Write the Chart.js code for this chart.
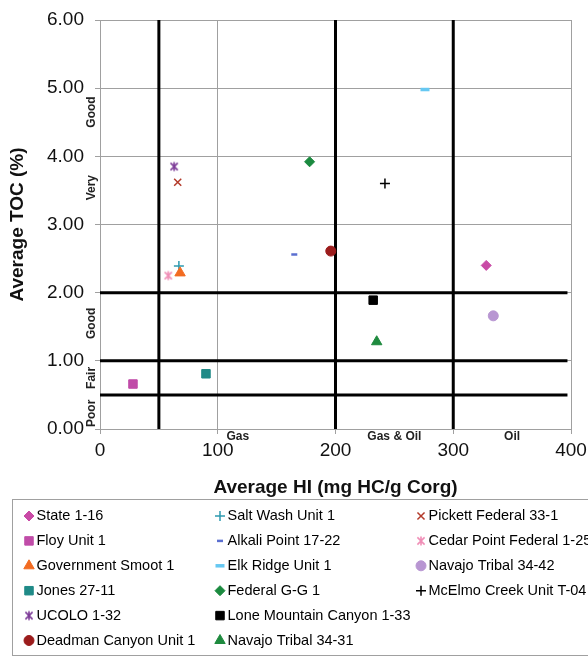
<!DOCTYPE html>
<html>
<head>
<meta charset="utf-8">
<script src="https://cdn.jsdelivr.net/npm/chart.js@4"></script>
<style>
  html, body { margin: 0; padding: 0; background: #ffffff; }
  #wrap { width: 588px; height: 658px; position: relative; }
</style>
</head>
<body>
<div id="wrap"><canvas id="c"></canvas></div>
<script>
// Wells: average hydrogen index vs average total organic carbon
const wellNames = [
  'State 1-16', 'Floy Unit 1', 'Government Smoot 1', 'Jones 27-11', 'UCOLO 1-32', 'Deadman Canyon Unit 1',
  'Salt Wash Unit 1', 'Alkali Point 17-22', 'Elk Ridge Unit 1', 'Federal G-G 1', 'Lone Mountain Canyon 1-33', 'Navajo Tribal 34-31',
  'Pickett Federal 33-1', 'Cedar Point Federal 1-25', 'Navajo Tribal 34-42', 'McElmo Creek Unit T-04'
];
const hiValues  = [328, 28, 68, 90, 63, 196, 67, 165, 276, 178, 232, 235, 66, 58, 334, 242];
const tocValues = [2.40, 0.66, 2.29, 0.81, 3.85, 2.61, 2.39, 2.56, 4.98, 3.92, 1.89, 1.28, 3.62, 2.25, 1.66, 3.60];

// Axis ranges and classification boundaries
const hiRange = [0, 400];
const hiStep = 100;
const tocRange = [0, 6];
const tocStep = 1;
const hiBoundaries = [50, 200, 300];
const tocBoundaries = [0.5, 1, 2];
const tocBoundaryEndHI = 397;

// Zone annotations
const kerogenLabels = ['Gas', 'Gas & Oil', 'Oil'];
const kerogenLabelHI = [117, 250, 350];
const richnessLabels = ['Poor', 'Fair', 'Good', 'Very', 'Good'];
const richnessLabelTOC = [0.23, 0.75, 1.55, 3.54, 4.65];

// Marker styling per well
const markerShapes = ['rectRot', 'rect', 'triangle', 'rect', 'asterisk', 'circle',
                      'cross', 'line', 'line', 'rectRot', 'rect', 'triangle',
                      'crossRot', 'asterisk', 'circle', 'cross'];
const markerColors = ['#c94aa6', '#c04ca8', '#f26b21', '#1f8a87', '#7d3c98', '#9b1c1c',
                      '#2e9bb0', '#5b6fd0', '#66c8f2', '#1b8a3f', '#000000', '#1e8a3e',
                      '#b33a2a', '#f08db6', '#b896d2', '#000000'];
const markerRadius = [5, 6, 6, 6, 4.5, 5, 5, 3, 4.5, 5, 6, 6, 5, 4.5, 5, 5];
const markerWidth  = [1, 1, 1, 1, 1.5, 1, 1.5, 2.5, 3.5, 1, 1, 1, 1.5, 1.5, 1, 1.5];

const FONT = "'Liberation Sans', Arial, sans-serif";

// Six-armed asterisk marker drawn on a small canvas
function asteriskMarker(color, r) {
  const s = Math.ceil(2 * r + 3);
  const cv = document.createElement('canvas');
  cv.width = s; cv.height = s;
  const g = cv.getContext('2d');
  const c = s / 2;
  g.strokeStyle = color;
  g.lineWidth = 1.6;
  g.beginPath();
  g.moveTo(c - r * 0.8, c - r * 0.8); g.lineTo(c + r * 0.8, c + r * 0.8);
  g.moveTo(c + r * 0.8, c - r * 0.8); g.lineTo(c - r * 0.8, c + r * 0.8);
  g.moveTo(c, c - r); g.lineTo(c, c + r);
  g.stroke();
  return cv;
}

function styleFor(i) {
  return markerShapes[i] === 'asterisk' ? asteriskMarker(markerColors[i], markerRadius[i]) : markerShapes[i];
}

const datasets = wellNames.map((name, i) => ({
  label: name,
  data: [{ x: hiValues[i], y: tocValues[i] }],
  pointStyle: styleFor(i),
  pointRadius: markerRadius[i],
  pointHoverRadius: markerRadius[i],
  pointBorderWidth: markerWidth[i],
  backgroundColor: markerColors[i],
  borderColor: markerColors[i]
}));

const zonePlugin = {
  id: 'zones',
  beforeDatasetsDraw(chart) {
    const { ctx, scales: { x, y } } = chart;
    ctx.save();
    ctx.strokeStyle = '#000000';
    ctx.lineWidth = 3;
    ctx.beginPath();
    hiBoundaries.forEach(v => {
      const px = x.getPixelForValue(v);
      ctx.moveTo(px, y.getPixelForValue(tocRange[0]));
      ctx.lineTo(px, y.getPixelForValue(tocRange[1]));
    });
    tocBoundaries.forEach(v => {
      const py = y.getPixelForValue(v);
      ctx.moveTo(x.getPixelForValue(hiRange[0]), py);
      ctx.lineTo(x.getPixelForValue(tocBoundaryEndHI), py);
    });
    ctx.stroke();
    ctx.restore();
  },
  afterDraw(chart) {
    const { ctx, scales: { x, y }, chartArea } = chart;
    ctx.save();
    ctx.fillStyle = '#222222';
    ctx.font = 'bold 12px ' + FONT;
    ctx.textAlign = 'center';
    ctx.textBaseline = 'middle';
    kerogenLabels.forEach((t, i) => {
      ctx.fillText(t, x.getPixelForValue(kerogenLabelHI[i]), chartArea.bottom + 8);
    });
    richnessLabels.forEach((t, i) => {
      ctx.save();
      ctx.translate(chartArea.left - 8, y.getPixelForValue(richnessLabelTOC[i]));
      ctx.rotate(-Math.PI / 2);
      ctx.fillText(t, 0, 0);
      ctx.restore();
    });

    // Legend box, three columns filled top to bottom
    ctx.strokeStyle = '#a0a0a0';
    ctx.lineWidth = 1;
    ctx.strokeRect(12.5, 499.5, 600, 156);
    const colX = [29, 220, 421];
    const rowY0 = 516, rowStep = 24.9, perCol = 6;
    ctx.font = '14.5px ' + FONT;
    ctx.textAlign = 'left';
    ctx.textBaseline = 'middle';
    chart.data.datasets.forEach((ds, i) => {
      const mx = colX[Math.floor(i / perCol)];
      const my = rowY0 + (i % perCol) * rowStep;
      ctx.save();
      ctx.fillStyle = ds.backgroundColor;
      ctx.strokeStyle = ds.borderColor;
      ctx.lineWidth = ds.pointBorderWidth;
      Chart.helpers.drawPoint(ctx, {
        pointStyle: ds.pointStyle,
        radius: ds.pointRadius,
        borderWidth: ds.pointBorderWidth,
        rotation: 0
      }, mx, my);
      ctx.restore();
      ctx.fillStyle = '#000000';
      ctx.fillText(ds.label, mx + 7.5, my);
    });
    ctx.restore();
  }
};

new Chart(document.getElementById('c'), {
  type: 'scatter',
  data: { datasets },
  options: {
    responsive: true,
    maintainAspectRatio: false,
    animation: false,
    layout: { padding: { left: 0, top: 20, right: 17, bottom: 159 } },
    plugins: { legend: { display: false }, tooltip: { enabled: false } },
    scales: {
      x: {
        type: 'linear',
        min: hiRange[0], max: hiRange[1],
        afterFit(scale) { scale.height = 70; scale.paddingLeft = 0; scale.paddingRight = 0; },
        ticks: {
          stepSize: hiStep, padding: 5, color: '#111111',
          font: { family: FONT, size: 19 }
        },
        grid: { color: '#a0a0a0', lineWidth: 1, tickLength: 5 },
        border: { color: '#a0a0a0' },
        title: {
          display: true, text: 'Average HI (mg HC/g Corg)', color: '#111111',
          font: { family: FONT, size: 19, weight: 'bold' },
          padding: { top: 0, bottom: 0 }
        }
      },
      y: {
        type: 'linear',
        min: tocRange[0], max: tocRange[1],
        afterFit(scale) { scale.width = 100; scale.paddingTop = 0; scale.paddingBottom = 0; },
        ticks: {
          stepSize: tocStep, padding: 11, color: '#111111',
          font: { family: FONT, size: 19 },
          callback: v => Number(v).toFixed(2)
        },
        grid: { color: '#a0a0a0', lineWidth: 1, tickLength: 5 },
        border: { color: '#a0a0a0' },
        title: {
          display: true, text: 'Average TOC (%)', color: '#111111',
          font: { family: FONT, size: 19, weight: 'bold' },
          padding: { top: 6, bottom: 0 }
        }
      }
    }
  },
  plugins: [zonePlugin]
});
</script>
</body>
</html>
